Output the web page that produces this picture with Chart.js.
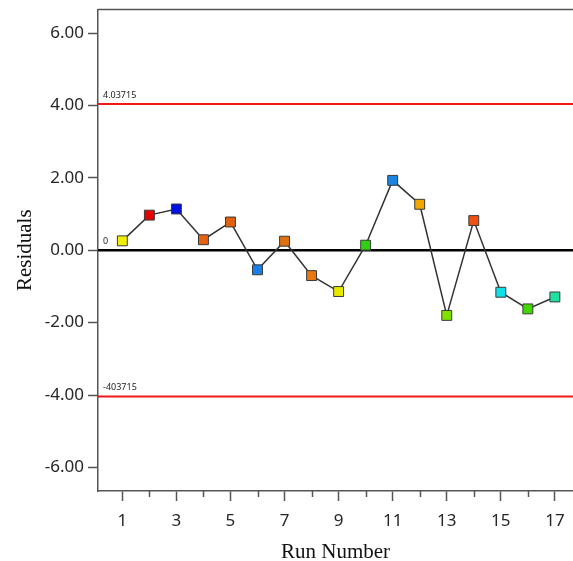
<!DOCTYPE html>
<html>
<head>
<meta charset="utf-8">
<script src="https://cdn.jsdelivr.net/npm/chart.js@4/dist/chart.umd.min.js"></script>
<style>
  html, body { margin: 0; padding: 0; background: #fff; }
  canvas { display: block; }
</style>
</head>
<body>
<canvas id="myChart" width="573" height="561"></canvas>
<script>
// run order and residuals
const runs = [1, 2, 3, 4, 5, 6, 7, 8, 9, 10, 11, 12, 13, 14, 15, 16, 17];
const residuals = [0.26, 0.97, 1.14, 0.29, 0.78, -0.54, 0.25, -0.70, -1.14, 0.14, 1.93, 1.27, -1.80, 0.82, -1.16, -1.62, -1.29];
const pointColors = ["#f2f000", "#e60000", "#0010e0", "#e86010", "#e0600c", "#1a7ee8", "#e07010", "#e87810", "#e8e800",
  "#30d010", "#1a86e0", "#f0a800", "#80e000", "#f05010", "#10e0e8", "#40d800", "#20e0a0"];

// control limits and their labels
const upperLimit = 4.03715;
const centerLine = 0;
const lowerLimit = -4.03715;
const limitLabels = ["4.03715", "0", "-403715"];

const xTitle = "Run Number";
const yTitle = "Residuals";

const axisGray = "#555555";

// drop the label overhang padding so the plot box sits where the original does
function noOverhang(scale) {
  scale.paddingLeft = 0;
  scale.paddingRight = 0;
  scale.paddingTop = 0;
  scale.paddingBottom = 0;
}

// horizontal reference lines, the frame top and the minor x ticks
const refLines = {
  id: "refLines",
  beforeDatasetsDraw(chart) {
    const {ctx, chartArea, scales: {y}} = chart;
    const lines = [
      {v: upperLimit, color: "#f01818", w: 2, label: limitLabels[0]},
      {v: centerLine, color: "#000000", w: 2.5, label: limitLabels[1]},
      {v: lowerLimit, color: "#f01818", w: 2, label: limitLabels[2]}
    ];
    ctx.save();
    lines.forEach(l => {
      const py = y.getPixelForValue(l.v);
      ctx.strokeStyle = l.color;
      ctx.lineWidth = l.w;
      ctx.beginPath();
      ctx.moveTo(chartArea.left, py);
      ctx.lineTo(chartArea.right, py);
      ctx.stroke();
      ctx.fillStyle = "#222";
      ctx.font = "9px 'Noto Sans'";
      ctx.textBaseline = "middle";
      ctx.textAlign = "left";
      ctx.fillText(l.label, chartArea.left + 5, py - 9);
    });
    ctx.restore();
  },
  afterDraw(chart) {
    const {ctx, chartArea, scales: {x}} = chart;
    ctx.save();
    ctx.strokeStyle = axisGray;
    ctx.lineWidth = 1.5;
    ctx.beginPath();
    ctx.moveTo(chartArea.left, chartArea.top);
    ctx.lineTo(chartArea.right, chartArea.top);
    ctx.stroke();
    runs.filter(r => r % 2 === 0).forEach(r => {
      const px = Math.round(x.getPixelForValue(r)) + 0.5;
      ctx.beginPath();
      ctx.moveTo(px, chartArea.bottom);
      ctx.lineTo(px, chartArea.bottom + 6);
      ctx.stroke();
    });
    ctx.restore();
  }
};

new Chart(document.getElementById("myChart"), {
  type: "line",
  data: {
    datasets: [{
      data: runs.map((r, i) => ({x: r, y: residuals[i]})),
      borderColor: "#333333",
      borderWidth: 1.5,
      tension: 0,
      pointStyle: "rect",
      pointRadius: 7,
      pointBackgroundColor: pointColors,
      pointBorderColor: "#3a3a3a",
      pointBorderWidth: 1
    }]
  },
  options: {
    responsive: false,
    animation: false,
    layout: {autoPadding: false, padding: {top: 9.5, left: 0, right: 0, bottom: 0}},
    plugins: {legend: {display: false}, tooltip: {enabled: false}},
    scales: {
      x: {
        type: "linear",
        min: 0.1,
        max: 17.67,
        afterFit(scale) { scale.height = 70; noOverhang(scale); },
        border: {display: true, color: axisGray, width: 1.5},
        grid: {
          drawOnChartArea: false,
          drawTicks: true,
          tickLength: 10,
          tickWidth: 1.5,
          tickColor: c => (c.tick && c.tick.value % 2 === 1) ? axisGray : "rgba(0,0,0,0)"
        },
        ticks: {
          stepSize: 1,
          includeBounds: false,
          autoSkip: false,
          maxRotation: 0,
          padding: 10,
          color: "#262626",
          font: {family: "'Noto Sans'", size: 17},
          callback: v => (v % 2 === 1 ? String(v) : "")
        },
        title: {
          display: true,
          text: xTitle,
          color: "#111",
          font: {family: "'Liberation Serif'", size: 21, lineHeight: 1},
          padding: {top: 0, bottom: -2}
        }
      },
      y: {
        min: -6.65,
        max: 6.65,
        afterFit(scale) { scale.width = 98; noOverhang(scale); },
        border: {display: true, color: axisGray, width: 1.5},
        grid: {
          drawOnChartArea: false,
          drawTicks: true,
          tickLength: 10,
          tickWidth: 1.5,
          tickColor: axisGray
        },
        ticks: {
          stepSize: 2,
          includeBounds: false,
          padding: 4,
          color: "#262626",
          font: {family: "'Noto Sans'", size: 17},
          callback: v => v.toFixed(2)
        },
        title: {
          display: true,
          text: yTitle,
          color: "#111",
          font: {family: "'Liberation Serif'", size: 21, lineHeight: 1},
          padding: {top: 15, bottom: 0}
        }
      }
    }
  },
  plugins: [refLines]
});
</script>
</body>
</html>
